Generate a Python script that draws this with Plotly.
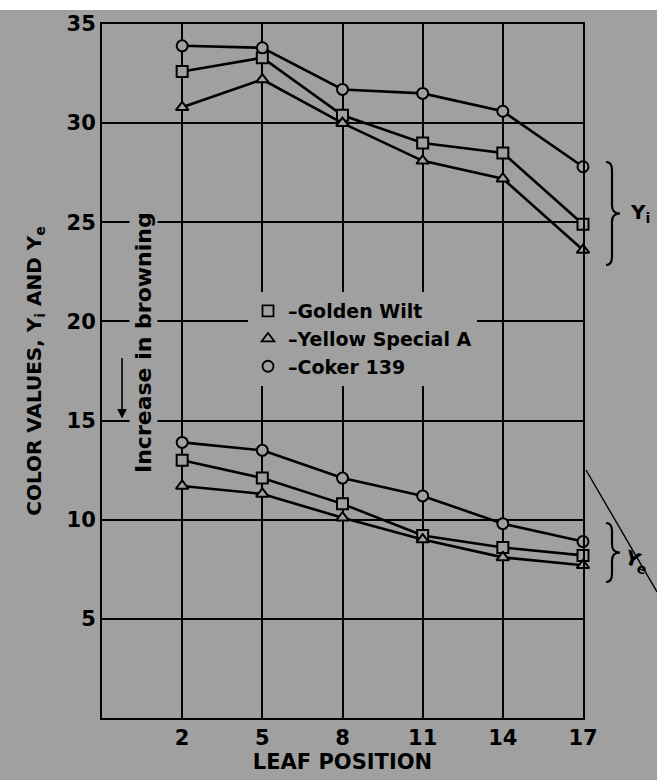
import plotly.graph_objects as go

# ---- data ----
leaf_position = [2, 5, 8, 11, 14, 17]

golden_wilt_yi = [32.6, 33.3, 30.4, 29.0, 28.5, 24.9]
yellow_special_yi = [30.8, 32.2, 30.0, 28.1, 27.2, 23.6]
coker_yi = [33.9, 33.8, 31.7, 31.5, 30.6, 27.8]

golden_wilt_ye = [13.0, 12.1, 10.8, 9.2, 8.6, 8.2]
yellow_special_ye = [11.7, 11.3, 10.1, 9.0, 8.1, 7.7]
coker_ye = [13.9, 13.5, 12.1, 11.2, 9.8, 8.9]

series_names = ["Golden Wilt", "Yellow Special A", "Coker 139"]
series_symbols = ["square", "triangle-up", "circle"]
x_ticks = [2, 5, 8, 11, 14, 17]
y_ticks = [5, 10, 15, 20, 25, 30, 35]

# ---- layout geometry ----
W, H = 657, 780
L, R, T, B = 102, 583, 24, 718
BG = "#a0a0a0"
FONT = "DejaVu Sans"


def px(xp):
    return (xp - L) / (R - L)


def py(yp):
    return (B - yp) / (B - T)


fig = go.Figure()

groups = [
    (golden_wilt_yi, golden_wilt_ye),
    (yellow_special_yi, yellow_special_ye),
    (coker_yi, coker_ye),
]
for (yi, ye), name, sym in zip(groups, series_names, series_symbols):
    for vals in (yi, ye):
        fig.add_trace(go.Scatter(
            x=leaf_position, y=vals, mode="lines+markers",
            line=dict(color="black", width=2.6),
            marker=dict(symbol=sym, size=11, color=BG,
                        line=dict(color="black", width=2)),
            showlegend=False, cliponaxis=False, hoverinfo="skip",
        ))

# legend entries (symbol + dash + name)
for name, sym in zip(series_names, series_symbols):
    fig.add_trace(go.Scatter(
        x=[None], y=[None], mode="markers", name="\u2013" + name,
        marker=dict(symbol=sym, size=11, color=BG,
                    line=dict(color="black", width=1.8)),
    ))

axis_common = dict(
    showline=True, linecolor="black", linewidth=2, mirror=True,
    showgrid=True, gridcolor="black", gridwidth=1.5, zeroline=False,
    ticks="", tickfont=dict(family=FONT, size=21, color="black", weight=700),
)

fig.update_layout(
    width=W, height=H,
    margin=dict(l=L, r=W - R, t=T, b=H - B, pad=0),
    paper_bgcolor=BG, plot_bgcolor=BG,
    xaxis=dict(range=[-1, 17], tickvals=x_ticks, **axis_common,
               title=dict(text="LEAF POSITION", standoff=2,
                          font=dict(family=FONT, size=21, color="black", weight=700))),
    yaxis=dict(range=[0, 35], tickvals=y_ticks, **axis_common,
               title=dict(text="COLOR VALUES, Y<sub>i</sub> AND Y<sub>e</sub>", standoff=20,
                          font=dict(family=FONT, size=20, color="black", weight=700))),
    legend=dict(x=px(248), y=py(292), xanchor="left", yanchor="top",
                bgcolor=BG, borderwidth=0,
                font=dict(family=FONT, size=19, color="black", weight=700)),
)


def brace(xc, y0, y1):
    ym = (y0 + y1) / 2
    pts = [
        ("M", [(xc - 6, y0)]),
        ("Q", [(xc, y0), (xc, y0 + 8)]),
        ("L", [(xc, ym - 8)]),
        ("Q", [(xc, ym), (xc + 8, ym)]),
        ("Q", [(xc, ym), (xc, ym + 8)]),
        ("L", [(xc, y1 - 8)]),
        ("Q", [(xc, y1), (xc - 6, y1)]),
    ]
    s = ""
    for cmd, coords in pts:
        s += cmd + " " + " ".join(f"{px(a):.5f},{py(b):.5f}" for a, b in coords) + " "
    return s.strip()


shapes = [
    dict(type="rect", xref="paper", yref="paper", x0=px(0), x1=px(W),
         y0=py(10), y1=py(0), fillcolor="white", line=dict(width=0)),
    dict(type="path", xref="paper", yref="paper", path=brace(612, 162, 265),
         line=dict(color="black", width=2.2)),
    dict(type="path", xref="paper", yref="paper", path=brace(612, 523, 582),
         line=dict(color="black", width=2.2)),
    dict(type="line", xref="paper", yref="paper", x0=px(586), y0=py(470),
         x1=px(657), y1=py(592), line=dict(color="black", width=1.4)),
]
fig.update_layout(shapes=shapes)

annotations = [
    dict(xref="paper", yref="paper", x=px(144), y=py(343), text="Increase in browning",
         xanchor="center", yanchor="middle",
         textangle=-90, showarrow=False, bgcolor=BG,
         font=dict(family=FONT, size=22, color="black", weight=700)),
    dict(x=-0.25, y=15.1, xref="x", yref="y", text="", showarrow=True,
         ax=0, ay=-62, arrowhead=2, arrowsize=1.2, arrowwidth=1.6, arrowcolor="black"),
    dict(xref="paper", yref="paper", x=px(640), y=py(213), text="Y<sub>i</sub>",
         xanchor="center", yanchor="middle",
         showarrow=False, font=dict(family=FONT, size=20, color="black", weight=700)),
    dict(xref="paper", yref="paper", x=px(636), y=py(561), text="Y<sub>e</sub>",
         xanchor="center", yanchor="middle",
         textangle=20, showarrow=False,
         font=dict(family=FONT, size=20, color="black", weight=700)),
]
fig.update_layout(annotations=annotations)

fig.write_html("out.html", config={"displayModeBar": False},
               post_script="document.body.style.margin='0';document.body.style.padding='0';")
